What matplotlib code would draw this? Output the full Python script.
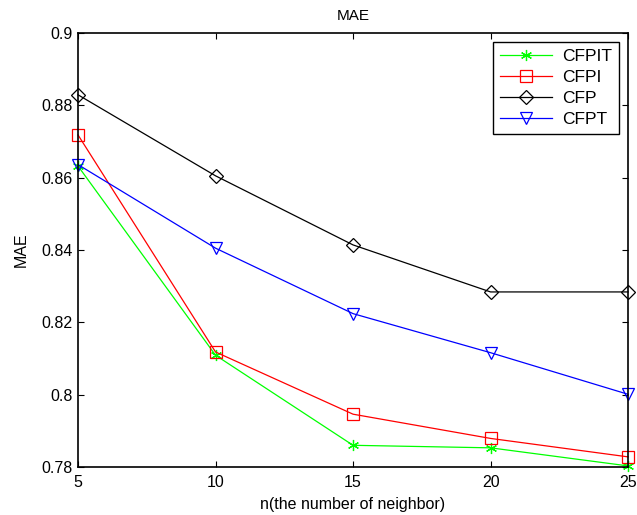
import numpy as np
import matplotlib
matplotlib.use("Agg")
from matplotlib import pyplot as plt

# neighbour counts and MAE for each method
n = [5, 10, 15, 20, 25]
cfpit = [0.8632, 0.8109, 0.7860, 0.7853, 0.7803]
cfpi = [0.8718, 0.8118, 0.7946, 0.7879, 0.7828]
cfp = [0.8829, 0.8605, 0.8414, 0.8284, 0.8284]
cfpt = [0.8636, 0.8405, 0.8224, 0.8116, 0.8001]

plt.rcParams['font.family'] = ['Liberation Sans', 'DejaVu Sans']

fig = plt.figure(figsize=(6.37, 5.15), dpi=100)
ax = fig.add_axes([0.1225, 0.0932, 0.8635, 0.8428])

asterisk = (6, 2, 0)
ax.plot(n, cfpit, color="#00ff00", lw=0.9, marker=asterisk, ms=8, mew=0.9, label="CFPIT", clip_on=False)
ax.plot(n, cfpi, color="red", lw=0.9, marker="s", ms=8, mfc="none", mew=0.9, label="CFPI", clip_on=False)
ax.plot(n, cfp, color="black", lw=0.9, marker="D", ms=7, mfc="none", mew=0.9, label="CFP", clip_on=False)
ax.plot(n, cfpt, color="blue", lw=0.9, marker="v", ms=9, mfc="none", mew=0.9, label="CFPT", clip_on=False)

ax.set_xlim(5, 25)
ax.set_ylim(0.78, 0.9)
ax.set_xticks([5, 10, 15, 20, 25])
ax.set_yticks([0.78, 0.8, 0.82, 0.84, 0.86, 0.88, 0.9])
ax.set_yticklabels(["0.78", "0.8", "0.82", "0.84", "0.86", "0.88", "0.9"])
ax.tick_params(direction="in", top=True, right=True, labelsize=11.5, length=4, width=0.8)
ax.tick_params(axis="x", pad=6)
ax.tick_params(axis="y", pad=4)
for s in ax.spines.values():
    s.set_linewidth(1.2)

ax.set_title("MAE", fontsize=11, pad=9)
ax.set_xlabel("n(the number of neighbor)", fontsize=11.5, labelpad=5)
ax.set_ylabel("MAE", fontsize=11.5, labelpad=9)

leg = ax.legend(loc="upper right", fontsize=12.5, handlelength=3, fancybox=False,
                framealpha=1, edgecolor="black", borderaxespad=0.5,
                labelspacing=0.35, borderpad=0.4, handletextpad=0.6)
leg.get_frame().set_linewidth(1.0)

fig.savefig("out.png", dpi=100)
